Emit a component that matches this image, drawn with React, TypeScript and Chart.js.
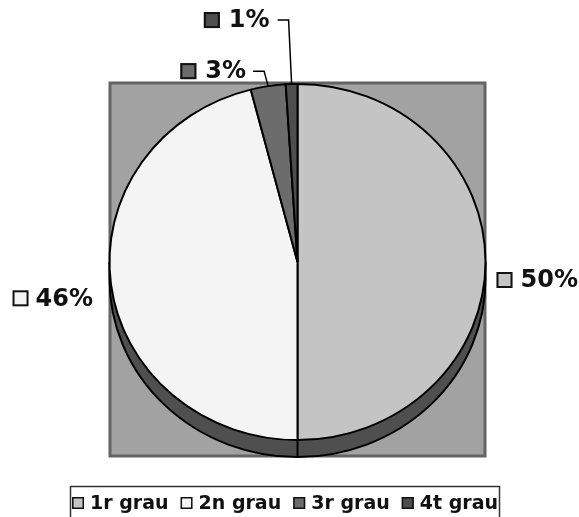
import React, { useEffect, useRef } from "react";
import { Chart, registerables } from "chart.js";

Chart.register(...registerables);

const categories = ["1r grau", "2n grau", "3r grau", "4t grau"];
const values = [50, 46, 3, 1];
const valueLabels = ["50%", "46%", "3%", "1%"];
const colors = ["#c4c4c4", "#f4f4f4", "#6c6c6c", "#4e4e4e"];

const FONT = '"DejaVu Sans", sans-serif';
const SY = 0.947; // vertical squash for the pseudo-3D look
const DEPTH = 17; // rim thickness in px

const decoPlugin = {
  id: "deco",
  beforeDraw(chart: any) {
    const ctx = chart.ctx;
    ctx.save();
    ctx.fillStyle = "#a2a2a2";
    ctx.fillRect(109, 82, 377, 375);
    ctx.strokeStyle = "#646464";
    ctx.lineWidth = 3;
    ctx.strokeRect(110, 83, 375, 373);
    ctx.restore();
  },
  beforeDatasetsDraw(chart: any) {
    const ctx = chart.ctx;
    const arc = chart.getDatasetMeta(0).data[0];
    const cx = arc.x, cy = arc.y, r = arc.outerRadius;
    ctx.save();
    ctx.translate(cx, cy);
    ctx.scale(1, SY);
    ctx.translate(-cx, -cy);
    const d = DEPTH / SY;
    ctx.fillStyle = "#4f4f4f";
    ctx.fillRect(cx - r, cy, 2 * r, d);
    ctx.beginPath();
    ctx.arc(cx, cy + d, r, 0, Math.PI);
    ctx.closePath();
    ctx.fill();
    ctx.strokeStyle = "#000";
    ctx.lineWidth = 2;
    ctx.beginPath();
    ctx.arc(cx, cy + d, r, 0, Math.PI);
    ctx.stroke();
    ctx.beginPath();
    ctx.moveTo(cx - r, cy);
    ctx.lineTo(cx - r, cy + d);
    ctx.moveTo(cx + r, cy);
    ctx.lineTo(cx + r, cy + d);
    ctx.moveTo(cx, cy + r);
    ctx.lineTo(cx, cy + r + d);
    ctx.stroke();
  },
  afterDatasetsDraw(chart: any) {
    chart.ctx.restore();
  },
  afterDraw(chart: any) {
    const ctx = chart.ctx;
    const meta = chart.getDatasetMeta(0);
    const layout: any[] = [
      { type: "right", dx: 11, dy: 18, gap: 8 },
      { type: "left", dx: -18, dy: 14, gap: 7 },
      { type: "leader", ex: -4, ey: -15, tail: -11, tgap: 7, gap: 9 },
      { type: "leader", ex: -3, ey: -64, tail: -11, tgap: 8, gap: 9 },
    ];
    const ms = 16;
    ctx.save();
    ctx.font = `bold 24px ${FONT}`;
    ctx.textBaseline = "middle";
    meta.data.forEach((el: any, i: number) => {
      const mid = (el.startAngle + el.endAngle) / 2;
      const ax = el.x + el.outerRadius * Math.cos(mid);
      const ay = el.y + el.outerRadius * SY * Math.sin(mid);
      const L = layout[i];
      const text = valueLabels[i];
      const tw = ctx.measureText(text).width;
      let textLeft = 0, ty = 0;
      if (L.type === "right") {
        textLeft = ax + L.dx + ms + L.gap;
        ty = ay + L.dy;
      } else if (L.type === "left") {
        textLeft = ax + L.dx - tw;
        ty = ay + L.dy;
      } else {
        const exx = ax + L.ex, eyy = ay + L.ey;
        ctx.strokeStyle = "#000";
        ctx.lineWidth = 1.5;
        ctx.beginPath();
        ctx.moveTo(ax, ay);
        ctx.lineTo(exx, eyy);
        ctx.lineTo(exx + L.tail, eyy);
        ctx.stroke();
        textLeft = exx + L.tail - L.tgap - tw;
        ty = eyy;
      }
      ctx.fillStyle = "#111";
      ctx.textAlign = "left";
      ctx.fillText(text, textLeft, ty + 1);
      const mx = textLeft - L.gap - ms;
      ctx.fillStyle = colors[i];
      ctx.fillRect(mx, ty - ms / 2, ms, ms);
      ctx.strokeStyle = "#111";
      ctx.lineWidth = 2;
      ctx.strokeRect(mx + 1, ty - ms / 2 + 1, ms - 2, ms - 2);
    });

    // legend frame
    ctx.strokeStyle = "#333";
    ctx.lineWidth = 1.5;
    ctx.beginPath();
    ctx.moveTo(70.5, 520);
    ctx.lineTo(70.5, 486.5);
    ctx.lineTo(499.5, 486.5);
    ctx.lineTo(499.5, 520);
    ctx.stroke();

    ctx.font = `bold 19px ${FONT}`;
    const box = 12, gapBT = 6, gapItem = 12;
    const widths = categories.map((c) => box + gapBT + ctx.measureText(c).width);
    const total = widths.reduce((a, b) => a + b, 0) + gapItem * (categories.length - 1);
    let x = 285 - total / 2;
    const ly = 503;
    categories.forEach((c, i) => {
      ctx.fillStyle = colors[i];
      ctx.fillRect(x, ly - box / 2, box, box);
      ctx.strokeStyle = "#111";
      ctx.lineWidth = 1.5;
      ctx.strokeRect(x + 0.75, ly - box / 2 + 0.75, box - 1.5, box - 1.5);
      ctx.fillStyle = "#111";
      ctx.fillText(c, x + box + gapBT, ly + 1);
      x += widths[i] + gapItem;
    });
    ctx.restore();
  },
};

export default function App() {
  const ref = useRef<HTMLCanvasElement>(null);
  useEffect(() => {
    if (!ref.current) return;
    const chart = new Chart(ref.current, {
      type: "pie",
      data: {
        labels: categories,
        datasets: [
          {
            data: values,
            backgroundColor: colors,
            borderColor: "#000",
            borderWidth: 2,
            clip: false,
          } as any,
        ],
      },
      options: {
        responsive: false,
        animation: false,
        events: [],
        radius: 188,
        layout: { padding: { left: 109.5, right: 93.5, top: 74, bottom: 67 } },
        plugins: {
          legend: { display: false },
          tooltip: { enabled: false },
        },
      } as any,
      plugins: [decoPlugin],
    });
    return () => chart.destroy();
  }, []);
  return (
    <div style={{ position: "absolute", left: 0, top: 0, width: 579, height: 517, background: "#fff" }}>
      <canvas ref={ref} width={579} height={517} />
    </div>
  );
}
